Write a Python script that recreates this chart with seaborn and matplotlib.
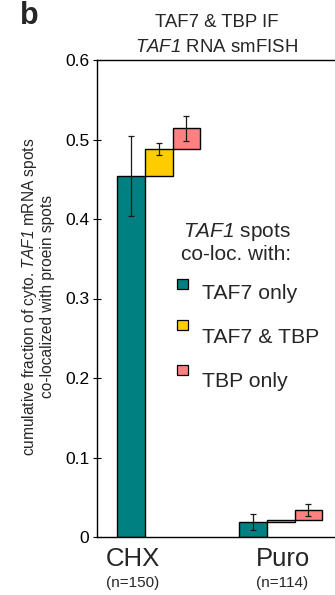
import numpy as np
import pandas as pd
import matplotlib
matplotlib.use("Agg")
import matplotlib.pyplot as plt
from matplotlib.patches import Rectangle
import seaborn as sns

# ---- data ----
conditions = ["CHX", "Puro"]
n_labels = ["(n=150)", "(n=114)"]
categories = ["TAF7 only", "TAF7 & TBP", "TBP only"]
taf7_only = [0.454, 0.019]
taf7_tbp = [0.034, 0.002]
tbp_only = [0.026, 0.013]
err_taf7_only = [0.050, 0.0105]
err_taf7_tbp = [0.007, 0.0]
err_tbp_only = [0.016, 0.007]
colors = ["#008080", "#FFCC00", "#FF8080"]
yticks = [0, 0.1, 0.2, 0.3, 0.4, 0.5, 0.6]

sns.set_style("ticks")
plt.rcParams["font.family"] = ["Liberation Sans", "DejaVu Sans"]
plt.rcParams["mathtext.fontset"] = "custom"
plt.rcParams["mathtext.rm"] = "Liberation Sans:italic"
plt.rcParams["mathtext.it"] = "Liberation Sans:italic"
plt.rcParams["mathtext.bf"] = "Liberation Sans:bold"

W, H = 335, 595
fig = plt.figure(figsize=(W / 100, H / 100), dpi=100)

def fx(px):
    return px / W

def fy(py):
    return 1 - py / H

ax = fig.add_axes([fx(96.7), fy(537), 1 - fx(96.7), (537 - 60) / H])

values = [taf7_only, taf7_tbp, tbp_only]
errors = [err_taf7_only, err_taf7_tbp, err_tbp_only]
df = pd.DataFrame({
    "condition": np.repeat(conditions, len(categories)),
    "category": categories * len(conditions),
    "value": [values[j][i] for i in range(len(conditions)) for j in range(len(categories))],
    "err": [errors[j][i] for i in range(len(conditions)) for j in range(len(categories))],
})

group_x = [2.25, 6.67]   # position of the middle bar of each group
label_x = [1.30, 6.73]
for gi, cond in enumerate(conditions):
    sub = df[df["condition"] == cond].reset_index(drop=True)
    bottom = 0.0
    for ci, row in sub.iterrows():
        xpos = group_x[gi] + (ci - 1)
        ax.bar(xpos, row["value"], bottom=bottom, width=1.0,
               color=colors[ci], edgecolor="black", linewidth=1.0, zorder=2)
        top = bottom + row["value"]
        if row["err"] > 0:
            ax.errorbar(xpos, top, yerr=row["err"], fmt="none",
                        ecolor="#1a1a1a", elinewidth=0.9, capsize=1.9,
                        capthick=0.9, zorder=3)
        bottom = top

ax.set_xlim(0, 8.63)
ax.set_ylim(0, 0.6)
ax.set_yticks(yticks)
ax.set_yticklabels(["0"] + [f"{t:.1f}" for t in yticks[1:]])
ax.tick_params(axis="y", direction="inout", length=6, width=0.8,
               labelsize=12.5, pad=2.3, colors="black")
ax.set_xticks(label_x)
ax.set_xticklabels(conditions)
ax.tick_params(axis="x", length=0, labelsize=18.5, pad=7)

for s in ["left", "bottom", "top"]:
    ax.spines[s].set_linewidth(1.0)
    ax.spines[s].set_color("black")
ax.spines["right"].set_visible(False)

for x, nl in zip(label_x, n_labels):
    ax.annotate(nl, xy=(x, 0), xycoords=("data", "axes fraction"),
                xytext=(0, -36), textcoords="offset points",
                ha="center", va="baseline", fontsize=11)

# y label
fig.text(fx(37.5), fy(297), "cumulative fraction of cyto. $TAF1$ mRNA spots\nco-localized with proein spots",
         rotation=90, ha="center", va="center", multialignment="center",
         fontsize=11.2, linespacing=1.15)

# title
fig.text(fx(216.5), fy(26.7), "TAF7 & TBP IF", ha="center", va="baseline", fontsize=13.4)
fig.text(fx(216.5), fy(51.7), "$TAF1$ RNA smFISH", ha="center", va="baseline", fontsize=13.4)

# panel letter
fig.text(fx(20), fy(24), "b", ha="left", va="baseline", fontsize=22, fontweight="bold")

# legend
fig.text(fx(183.3), fy(236.7), "$TAF1$ spots", ha="left", va="baseline", fontsize=15)
fig.text(fx(181), fy(260), "co-loc. with:", ha="left", va="baseline", fontsize=15)
patch_tops = [279.3, 320.0, 365.0]
text_base = [299.3, 343.3, 387.3]
for c, lab, pt, tb in zip(colors, categories, patch_tops, text_base):
    fig.patches.append(Rectangle((fx(177.3), fy(pt + 10)), 10.4 / W, 10 / H,
                                 transform=fig.transFigure, facecolor=c,
                                 edgecolor="black", linewidth=0.9))
    fig.text(fx(201.7), fy(tb), lab, ha="left", va="baseline", fontsize=15.3)

fig.savefig("out.png", dpi=100)
